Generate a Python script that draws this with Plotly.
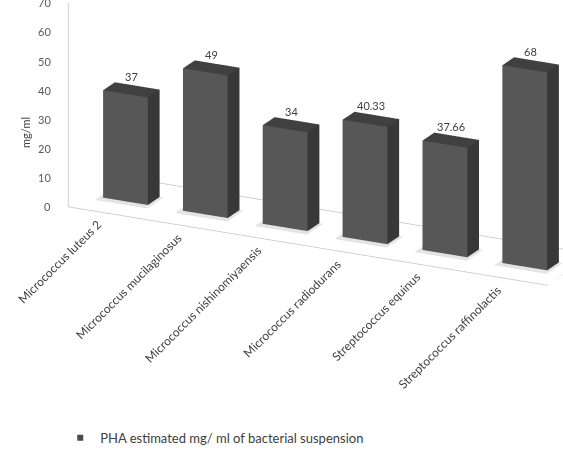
import math
import plotly.graph_objects as go

# Data
categories = [
    "Micrococcus luteus 2",
    "Micrococcus mucilaginosus",
    "Micrococcus nishinomiyaensis",
    "Micrococcus radiodurans",
    "Streptococcus equinus",
    "Streptococcus raffinolactis",
]
values = [37, 49, 34, 40.33, 37.66, 68]
value_labels = ["37", "49", "34", "40.33", "37.66", "68"]
z_ticks = [0, 10, 20, 30, 40, 50, 60, 70]
series_name = "PHA estimated mg/ ml of bacterial suspension"
z_title = "mg/ml"

# Geometry of the 3-D columns (data units)
BAR_W = 0.56
BAR_D = 0.255
Y_CENTER = 0.5
X_MIN, X_MAX = -0.5, len(categories) - 0.5
Y_MIN, Y_MAX = 0.0, 1.0
Z_MAX = 70

# Scene proportions and camera (yaw / elevation in degrees)
ASPECT = dict(x=2.348, y=0.46, z=0.951)
YAW, ELEV, DIST = 22.0, 11.0, 3.0
LOOK_CAT = 1.88  # category index the camera is aimed at
LOOK_DROP = 0.024  # look-at point slightly below the floor

FRONT_C = "#575757"
SIDE_C = "#383838"
TOP_C = "#404040"
HIDDEN_C = "#333333"
SHADOW_C = "#e4e4e4"


def box(x0, x1, y0, y1, z0, z1, colors, out):
    xs, ys, zs, ii, jj, kk, fc = out
    base = len(xs)
    corners = [
        (x0, y0, z0), (x1, y0, z0), (x1, y1, z0), (x0, y1, z0),
        (x0, y0, z1), (x1, y0, z1), (x1, y1, z1), (x0, y1, z1),
    ]
    for cx, cy, cz in corners:
        xs.append(cx); ys.append(cy); zs.append(cz)
    front, side, top, hidden = colors
    faces = [
        ((0, 1, 5), front), ((0, 5, 4), front),
        ((1, 2, 6), side), ((1, 6, 5), side),
        ((4, 5, 6), top), ((4, 6, 7), top),
        ((3, 2, 6), hidden), ((3, 6, 7), hidden),
        ((0, 3, 7), hidden), ((0, 7, 4), hidden),
        ((0, 1, 2), hidden), ((0, 2, 3), hidden),
    ]
    for (a, b, c), col in faces:
        ii.append(base + a); jj.append(base + b); kk.append(base + c)
        fc.append(col)


bars = ([], [], [], [], [], [], [])
for idx, v in enumerate(values):
    box(idx - BAR_W / 2, idx + BAR_W / 2,
        Y_CENTER - BAR_D / 2, Y_CENTER + BAR_D / 2,
        0, v, (FRONT_C, SIDE_C, TOP_C, HIDDEN_C), bars)

# soft footprint on the floor around each column
shadows = ([], [], [], [], [], [], [])
for idx, v in enumerate(values):
    box(idx - BAR_W / 2 - 0.05, idx + BAR_W / 2 + 0.04,
        Y_CENTER - BAR_D / 2 - 0.08, Y_CENTER + BAR_D / 2,
        0, 0.15, (SHADOW_C,) * 4, shadows)

flat_light = dict(ambient=1.0, diffuse=0.0, specular=0.0, roughness=1.0, fresnel=0.0)

fig = go.Figure()
for mesh in (shadows, bars):
    xs, ys, zs, ii, jj, kk, fc = mesh
    fig.add_trace(go.Mesh3d(
        x=xs, y=ys, z=zs, i=ii, j=jj, k=kk,
        facecolor=fc, flatshading=True, lighting=flat_light,
        hoverinfo="skip", showlegend=False,
    ))

# Floor outline and the left wall edge
line_style = dict(color="#c4c4c4", width=1.5)
fig.add_trace(go.Scatter3d(
    x=[X_MIN, X_MAX, X_MAX, X_MIN, X_MIN],
    y=[Y_MIN, Y_MIN, Y_MAX, Y_MAX, Y_MIN],
    z=[0, 0, 0, 0, 0],
    mode="lines", line=line_style, hoverinfo="skip", showlegend=False,
))
fig.add_trace(go.Scatter3d(
    x=[X_MIN, X_MIN], y=[Y_MIN, Y_MIN], z=[0, Z_MAX],
    mode="lines", line=line_style, hoverinfo="skip", showlegend=False,
))

# Legend entry
fig.add_trace(go.Scatter3d(
    x=[None], y=[None], z=[None], mode="markers", name=series_name,
    marker=dict(symbol="square", size=6, color="#4a4a4a"),
    showlegend=True,
))

annotations = []
for t in z_ticks:
    annotations.append(dict(
        x=X_MIN, y=Y_MIN, z=t, text=str(t), showarrow=False,
        xanchor="right", yanchor="middle", xshift=-15,
        font=dict(family="Lato", size=11, color="#595959"),
    ))
for idx, (v, lab) in enumerate(zip(values, value_labels)):
    annotations.append(dict(
        x=idx, y=Y_CENTER, z=v, text=lab, showarrow=False,
        xanchor="center", yanchor="bottom", yshift=5,
        font=dict(family="Lato", size=11, color="#404040"),
    ))
for idx, cat in enumerate(categories):
    annotations.append(dict(
        x=idx, y=Y_MIN, z=0, text=cat, showarrow=False,
        xanchor="right", yanchor="top", textangle=-45, xshift=-1, yshift=-1,
        font=dict(family="Lato", size=12, color="#404040"),
    ))

# Camera: look-at point on the floor, eye offset relative to it
n_cat = len(categories)
look = dict(
    x=(LOOK_CAT - (n_cat - 1) / 2) * ASPECT["x"] / n_cat,
    y=0.0,
    z=-ASPECT["z"] / 2 - LOOK_DROP,
)
yaw, elev = math.radians(YAW), math.radians(ELEV)
eye = dict(
    x=DIST * math.sin(yaw) * math.cos(elev),
    y=-DIST * math.cos(yaw) * math.cos(elev),
    z=DIST * math.sin(elev),
)

hidden_axis = dict(visible=False, showbackground=False, showgrid=False, zeroline=False)

fig.update_layout(
    width=563, height=455,
    paper_bgcolor="white",
    margin=dict(l=0, r=0, t=0, b=0),
    font=dict(family="Lato", color="#404040"),
    scene=dict(
        domain=dict(x=[0.0, 1.0], y=[0.0, 1.0]),
        xaxis=dict(range=[X_MIN, X_MAX], **hidden_axis),
        yaxis=dict(range=[Y_MIN, Y_MAX], **hidden_axis),
        zaxis=dict(range=[0, Z_MAX], **hidden_axis),
        aspectmode="manual",
        aspectratio=ASPECT,
        camera=dict(
            eye=eye, center=look, up=dict(x=0, y=0, z=1),
            projection=dict(type="orthographic"),
        ),
        annotations=annotations,
    ),
    annotations=[dict(
        xref="paper", yref="paper", x=0.03, y=0.747, text=z_title,
        showarrow=False, textangle=-90,
        font=dict(family="Lato", size=11, color="#404040"),
    )],
    showlegend=True,
    legend=dict(
        orientation="h", x=0.107, xanchor="left", y=0.005, yanchor="bottom",
        itemwidth=30,
        font=dict(family="Lato", size=13, color="#404040"),
    ),
)

fig.write_html("out.html")
